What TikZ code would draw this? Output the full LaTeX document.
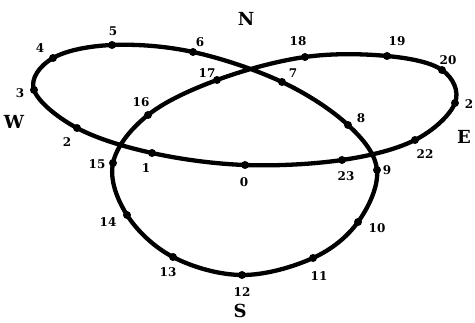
\documentclass[tikz,border=0pt]{standalone}
\usepackage{fontspec}
\setmainfont{DejaVu Serif}
\begin{document}
\begin{tikzpicture}[x=1pt,y=-1pt,
  curve/.style={line width=4.3pt,line join=round},
  dot/.style={circle,fill=black,inner sep=0pt,minimum size=8pt},
  num/.style={font=\bfseries\fontsize{12}{12}\selectfont,inner sep=0pt},
  compass/.style={font=\bfseries\fontsize{18}{18}\selectfont,inner sep=0pt}]
\useasboundingbox (0,0) rectangle (475,323);
% points on the curve
\coordinate (p0) at (245,165);
\coordinate (p1) at (152,153);
\coordinate (p2) at (77,128);
\coordinate (p3) at (34,90);
\coordinate (p4) at (53,58);
\coordinate (p5) at (112,45);
\coordinate (p6) at (193,52);
\coordinate (p7) at (282,82);
\coordinate (p8) at (348,125);
\coordinate (p9) at (377,170);
\coordinate (p10) at (358,222);
\coordinate (p11) at (313,258);
\coordinate (p12) at (242,275);
\coordinate (p13) at (173,257);
\coordinate (p14) at (127,215);
\coordinate (p15) at (113,163);
\coordinate (p16) at (148,115);
\coordinate (p17) at (217,80);
\coordinate (p18) at (305,57);
\coordinate (p19) at (387,56);
\coordinate (p20) at (442,70);
\coordinate (p21) at (455,103);
\coordinate (p22) at (415,140);
\coordinate (p23) at (342,160);
\draw[curve] plot[smooth cycle,tension=0.6] coordinates {(p0) (p1) (p2) (p3) (p4) (p5) (p6) (p7) (p8) (p9) (p10) (p11) (p12) (p13) (p14) (p15) (p16) (p17) (p18) (p19) (p20) (p21) (p22) (p23)};
\foreach \i in {0,...,23} \node[dot] (d\i) at (p\i) {};
% labels
\node[num] (l0) at (244,182) {0};
\node[num] (l1) at (146,168) {1};
\node[num] (l2) at (67,142) {2};
\node[num] (l3) at (20,93) {3};
\node[num] (l4) at (40,48) {4};
\node[num] (l5) at (113,31) {5};
\node[num] (l6) at (200,42) {6};
\node[num] (l7) at (293,73) {7};
\node[num] (l8) at (361,118) {8};
\node[num] (l9) at (387,170) {9};
\node[num] (l10) at (377,228) {10};
\node[num] (l11) at (319,276) {11};
\node[num] (l12) at (242,292) {12};
\node[num] (l13) at (168,272) {13};
\node[num] (l14) at (108,222) {14};
\node[num] (l15) at (97,164) {15};
\node[num] (l16) at (141,102) {16};
\node[num] (l17) at (207,73) {17};
\node[num] (l18) at (298,41) {18};
\node[num] (l19) at (397,41) {19};
\node[num] (l20) at (448,60) {20};
\node[num] (l21) at (469,104) {2};
\node[num] (l22) at (425,154) {22};
\node[num] (l23) at (346,176) {23};
\node[compass] (N) at (246,19) {N};
\node[compass] (W) at (14,122) {W};
\node[compass] (E) at (464,137) {E};
\node[compass] (S) at (240,311) {S};
\end{tikzpicture}
\end{document}
